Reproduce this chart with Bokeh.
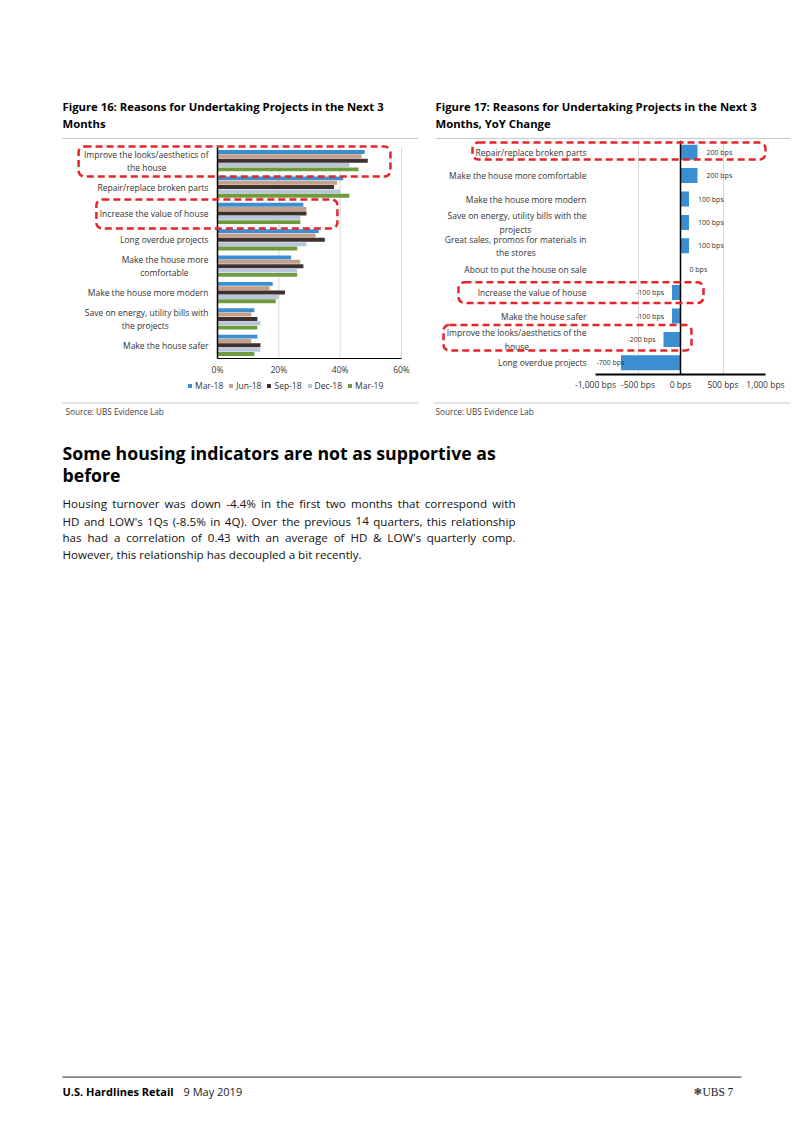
from bokeh.plotting import figure
from bokeh.models import (Range1d, ColumnDataSource, Legend, LegendItem,
                          BoxAnnotation, Span, FixedTicker, CustomJSTickFormatter,
                          PrintfTickFormatter)
from bokeh.layouts import column, row
from bokeh.transform import dodge
from bokeh.core.properties import value
from bokeh.embed import file_html
from bokeh.resources import INLINE

FONT = "Open Sans"
TXT = "#333333"

# ---------------- data: Figure 16 ----------------
reasons16 = ["Improve the looks/aesthetics of\nthe house", "Repair/replace broken parts",
             "Increase the value of house", "Long overdue projects",
             "Make the house more\ncomfortable", "Make the house more modern",
             "Save on energy, utility bills with\nthe projects", "Make the house safer"]
periods = ["Mar-18", "Jun-18", "Sep-18", "Dec-18", "Mar-19"]
mar18 = [48, 41, 28, 33, 24, 18, 12, 13]
jun18 = [47, 39, 29, 32, 27, 17, 11, 11]
sep18 = [49, 38, 29, 35, 28, 22, 13, 14]
dec18 = [43, 40, 27, 29, 26, 20, 14, 14]
mar19 = [46, 43, 27, 26, 26, 19, 13, 12]
period_colors = ["#3B8ED0", "#C4A08A", "#3D312D", "#B8C6DC", "#6F9B3C"]
ticks16 = [0, 20, 40, 60]

# ---------------- data: Figure 17 ----------------
reasons17 = ["Repair/replace broken parts", "Make the house more comfortable",
             "Make the house more modern", "Save on energy, utility bills with the\nprojects",
             "Great sales, promos for materials in\nthe stores", "About to put the house on sale",
             "Increase the value of house", "Make the house safer",
             "Improve the looks/aesthetics of the\nhouse", "Long overdue projects"]
yoy_bps = [200, 200, 100, 100, 100, 0, -100, -100, -200, -700]
ticks17 = [-1000, -500, 0, 500, 1000]

RED = "#E4252B"
NBSP = "\u00a0"
ZWSP = "\u200b"

# ---------------- layout constants (page pixels) ----------------
ROW_TOP, ROW_H, BORDER_B = 140, 258, 24
ROW_BOT = ROW_TOP + ROW_H                      # 398
FRAME_BOTTOM = ROW_BOT - BORDER_B              # 374 (both chart frames)
C16_TOP, C16_BOT = 147, 358                    # category band of fig 16
X16_ZERO, X16_MAX = 217, 401                   # 0% and 60% of fig 16
F16_LEFT, F16_RIGHT = 210, 410                 # frame of fig 16
W16, W17 = 426, 376
F17_LEFT, F17_RIGHT = W16 + 169, 802 - 37      # frame of fig 17 (595..765)


def centered_label(lab, n):
    """Second line of a two-line label padded so it sits roughly centred under the first."""
    if "\n" in lab and n:
        a, b = lab.split("\n")
        return a + "\n" + b + NBSP * n + ZWSP
    return lab


def base_fig(**kw):
    p = figure(output_backend="svg", toolbar_location=None, title=None, **kw)
    p.outline_line_color = None
    p.background_fill_color = "white"
    p.border_fill_color = "white"
    p.grid.visible = False
    return p


def style_axis(ax, size="8.5px"):
    ax.major_tick_line_color = None
    ax.minor_tick_line_color = None
    ax.major_tick_out = 0
    ax.major_tick_in = 0
    ax.minor_tick_out = 0
    ax.minor_tick_in = 0
    ax.major_label_text_font = FONT
    ax.major_label_text_font_size = size
    ax.major_label_text_color = TXT


# ---------------- Figure 16 chart ----------------
n16 = len(reasons16)
pitch16 = (C16_BOT - C16_TOP) / n16
y16 = [n16 - 1 - i + 0.5 for i in range(n16)]
px16 = (X16_MAX - X16_ZERO) / 60.0
src16 = ColumnDataSource(dict(y=y16, mar18=mar18, jun18=jun18, sep18=sep18,
                              dec18=dec18, mar19=mar19))
p16 = base_fig(width=W16, height=ROW_H,
               x_range=Range1d(-(X16_ZERO - F16_LEFT) / px16, 60 + (F16_RIGHT - X16_MAX) / px16),
               y_range=Range1d(-(FRAME_BOTTOM - C16_BOT) / pitch16,
                               n16 + (C16_TOP - ROW_TOP) / pitch16),
               min_border_left=F16_LEFT, min_border_right=W16 - F16_RIGHT,
               min_border_top=0, min_border_bottom=BORDER_B)
p16.segment(x0=ticks16[1:], x1=ticks16[1:], y0=0, y1=n16, line_color="#D9D9D9", line_width=1)
cols = ["mar18", "jun18", "sep18", "dec18", "mar19"]
offsets = [0.33, 0.165, 0.0, -0.165, -0.33]
for c, off, col in zip(cols, offsets, period_colors):
    p16.hbar(y=dodge("y", off), left=0, right=c, height=0.15,
             fill_color=col, line_color=None, source=src16)
# the value axis line at 0 %
p16.segment(x0=[0], x1=[0], y0=[0], y1=[n16], line_color="black", line_width=1.5)

p16.xaxis.ticker = FixedTicker(ticks=ticks16)
p16.xaxis.formatter = PrintfTickFormatter(format="%d%%")
p16.xaxis.fixed_location = 0
p16.xaxis.bounds = (0, 60)
style_axis(p16.xaxis)
p16.xaxis.axis_line_color = "black"
p16.xaxis.axis_line_width = 1
p16.xaxis.major_label_standoff = 5

p16.yaxis.ticker = FixedTicker(ticks=y16)
p16.yaxis.major_label_overrides = {y: centered_label(lab, n) for y, lab, n in
                                   zip(y16, reasons16, [19, 0, 0, 0, 9, 0, 18, 0])}
style_axis(p16.yaxis)
p16.yaxis.axis_line_color = None
p16.yaxis.major_label_standoff = 2

# ---------------- Figure 17 chart ----------------
n17 = len(reasons17)
y17 = [n17 - 1 - i + 0.5 for i in range(n17)]
x_lo, x_hi = -1000, 1000
lab_x, aligns, offs = [], [], []
for v in yoy_bps:
    if v >= 0:
        lab_x.append(v); aligns.append("left"); offs.append(9)
    elif v > -500:
        lab_x.append(v); aligns.append("right"); offs.append(-8)
    else:
        lab_x.append(x_lo); aligns.append("left"); offs.append(1)
src17 = ColumnDataSource(dict(y=y17, bps=yoy_bps, lx=lab_x, al=aligns, xo=offs,
                              txt=[f"{v:,} bps" for v in yoy_bps]))
p17 = base_fig(y_range=Range1d(0, n17), x_range=Range1d(x_lo, x_hi),
               width=W17, height=ROW_H, min_border_left=F17_LEFT - W16,
               min_border_right=802 - F17_RIGHT, min_border_top=0, min_border_bottom=BORDER_B)
p17.xgrid.visible = True
p17.xgrid.grid_line_color = "#D9D9D9"
p17.hbar(y="y", left=0, right="bps", height=0.64, fill_color="#3B8ED0", line_color=None,
         source=src17)
p17.text(x="lx", y="y", text="txt", x_offset="xo", text_align="al", text_baseline="middle",
         text_font=value(FONT), text_font_size=value("7px"), text_color=TXT, source=src17)
p17.add_layout(Span(location=0, dimension="height", line_color="black", line_width=1.5))
p17.xaxis.ticker = FixedTicker(ticks=ticks17)
p17.xaxis.formatter = CustomJSTickFormatter(code="return tick.toLocaleString('en-US') + ' bps'")
style_axis(p17.xaxis)
style_axis(p17.yaxis)
p17.xaxis.axis_line_color = "black"
p17.xaxis.axis_line_width = 2
p17.xaxis.major_label_standoff = 4
p17.yaxis.ticker = FixedTicker(ticks=y17)
p17.yaxis.axis_line_color = None
p17.yaxis.major_label_standoff = 9
p17.yaxis.major_label_overrides = {y: centered_label(lab, n) for y, lab, n in
                                   zip(y17, reasons17, [0, 0, 0, 25, 23, 0, 0, 0, 26, 0])}

# ---------------- transparent overlay on the chart row: highlight boxes + legend ----------------
pitch17 = (FRAME_BOTTOM - ROW_TOP) / n17
px17 = (F17_RIGHT - F17_LEFT) / (x_hi - x_lo)
zero17 = F17_LEFT - x_lo * px17
ov = figure(output_backend="svg", toolbar_location=None, title=None, width=802, height=ROW_H,
            x_range=Range1d(0, 802), y_range=Range1d(ROW_BOT, ROW_TOP),
            x_axis_location=None, y_axis_location=None, min_border=0)
ov.grid.visible = False
ov.outline_line_color = None
ov.background_fill_alpha = 0
ov.border_fill_alpha = 0
ov.margin = (-ROW_H, 0, 0, 0)
# scales of the two charts expressed over the overlay's area
ov.extra_x_ranges = {"x16": Range1d(-X16_ZERO / px16, (802 - X16_ZERO) / px16),
                     "x17": Range1d(-zero17 / px17, (802 - zero17) / px17)}
ov.extra_y_ranges = {"y16": Range1d(-(ROW_BOT - C16_BOT) / pitch16, (C16_BOT - ROW_TOP) / pitch16),
                     "y17": Range1d(-(ROW_BOT - FRAME_BOTTOM) / pitch17,
                                    (FRAME_BOTTOM - ROW_TOP) / pitch17)}
boxes = [("x16", "y16", -45.3, 56.4, 6.90, 8.04), ("x16", "y16", -39.5, 39.1, 4.93, 6.03),
         ("x17", "y17", -2447, 1000, 9.19, 9.91), ("x17", "y17", -2612, 271, 3.06, 3.94),
         ("x17", "y17", -2788, 129, 1.03, 2.12)]
for xr, yr, l, r_, b, t in boxes:
    ov.add_layout(BoxAnnotation(left=l, right=r_, bottom=b, top=t, x_range_name=xr,
                                y_range_name=yr, fill_alpha=0, fill_color=None,
                                line_color=RED, line_alpha=1, line_width=2.5,
                                line_dash="7 4", border_radius=6, level="annotation"))
# legend swatches for the five survey waves of figure 16 (zero-size proxy glyphs)
items = []
for col, lab in zip(period_colors, periods):
    proxy = ColumnDataSource(dict(y=[0], left=[0], right=[0]))
    r = ov.hbar(y="y", left="left", right="right", height=0, fill_color=col, line_color=None,
                source=proxy)
    items.append(LegendItem(label=lab, renderers=[r]))
leg = Legend(items=items, orientation="horizontal", location=(187, ROW_BOT - 391), glyph_width=5,
             glyph_height=5, label_height=11, label_width=10, label_standoff=3, spacing=5,
             padding=0, margin=0, border_line_color=None, background_fill_alpha=0,
             label_text_font=FONT, label_text_font_size="8.5px", label_text_color=TXT)
ov.add_layout(leg)


# ---------------- page text ----------------
def page_fig(h, y0):
    return base_fig(width=802, height=h, x_range=Range1d(0, 802), y_range=Range1d(y0 + h, y0),
                    x_axis_location=None, y_axis_location=None, min_border=0)


# approximate Open Sans advance widths (units per 2048 em), used to justify the paragraph
W = {" ": 532, "'": 362, "(": 608, ")": 608, ",": 502, "-": 659, ".": 545, "%": 1696, "&": 1487,
     "H": 1511, "L": 1083, "O": 1593, "Q": 1593, "W": 1901, "D": 1472, "S": 1114,
     "a": 1139, "b": 1255, "c": 975, "d": 1255, "e": 1149, "f": 694, "g": 1122, "h": 1257,
     "i": 518, "j": 518, "k": 1075, "l": 518, "m": 1905, "n": 1257, "o": 1237, "p": 1255,
     "q": 1255, "r": 836, "s": 977, "t": 723, "u": 1257, "v": 1026, "w": 1593, "x": 1073,
     "y": 1028, "z": 977}


def est_width(s, size):
    return sum(W.get(ch, 1171) for ch in s) / 2048.0 * size


head = page_fig(ROW_TOP, 0)
head.text(x=[62, 62, 435, 435], y=[106, 123, 106, 123],
          text=["Figure 16: Reasons for Undertaking Projects in the Next 3", "Months",
                "Figure 17: Reasons for Undertaking Projects in the Next 3", "Months, YoY Change"],
          text_font=value(FONT), text_font_style="bold", text_font_size=value("11.3px"),
          text_color="black", text_baseline="middle")
head.segment(x0=[62, 435], x1=[418, 790], y0=[138, 138], y1=[138, 138],
             line_color="#C8C8C8", line_width=1)

body = page_fig(1133 - ROW_BOT, ROW_BOT)
body.segment(x0=[62, 433], x1=[418, 790], y0=[402.5, 402.5], y1=[402.5, 402.5],
             line_color="#C8C8C8", line_width=1)
body.text(x=[65, 435], y=[410.5, 410.5], text=["Source:  UBS Evidence Lab"] * 2,
          text_font=value(FONT), text_font_size=value("8.2px"), text_color="#444444",
          text_baseline="middle")
body.text(x=[62, 62], y=[452.5, 474.5],
          text=["Some housing indicators are not as supportive as", "before"],
          text_font=value(FONT), text_font_style="bold", text_font_size=value("17.7px"),
          text_color="black", text_baseline="alphabetic")

para = ["Housing turnover was down -4.4% in the first two months that correspond with",
        "HD and LOW's 1Qs (-8.5% in 4Q). Over the previous 14 quarters, this relationship",
        "has had a correlation of 0.43 with an average of HD & LOW's quarterly comp.",
        "However, this relationship has decoupled a bit recently."]
para_y = [503.3, 520.7, 537.3, 554.3]
PSIZE = 11.6
left_x, right_x = 62, 515
wx, wy, wt, wa = [], [], [], []
for i, (line, yy) in enumerate(zip(para, para_y)):
    if i == len(para) - 1:
        wx.append(left_x); wy.append(yy); wt.append(line); wa.append("left")
        continue
    words = line.split(" ")
    widths = [est_width(w, PSIZE) for w in words]
    gap = (right_x - left_x - sum(widths)) / (len(words) - 1)
    x = left_x
    for j, (w, ww) in enumerate(zip(words, widths)):
        if j == len(words) - 1:
            wx.append(right_x); wa.append("right")
        else:
            wx.append(x); wa.append("left")
        wy.append(yy); wt.append(w)
        x += ww + gap
body.text(x=wx, y=wy, text=wt, text_align=wa, text_font=value(FONT),
          text_font_size=value(f"{PSIZE}px"), text_color="#111111", text_baseline="middle")

# footer
body.segment(x0=[62], x1=[741], y0=[1076.7], y1=[1076.7], line_color="#555555", line_width=1.2)
body.text(x=[62], y=[1091], text=["U.S. Hardlines Retail"], text_font=value(FONT),
          text_font_style="bold", text_font_size=value("11px"), text_color="black",
          text_baseline="middle")
body.text(x=[183], y=[1091], text=["9 May 2019"], text_font=value(FONT),
          text_font_size=value("11px"), text_color="#222222", text_baseline="middle")
body.text(x=[693], y=[1091], text=["\u2743"], text_font=value("DejaVu Sans"),
          text_font_size=value("10px"), text_color="#333333", text_baseline="middle")
body.text(x=[702, 727], y=[1091, 1091], text=["UBS", "7"], text_font=value("Liberation Serif"),
          text_font_size=value("11.5px"), text_color="#222222", text_baseline="middle")

layout = column(head, row(p16, p17, spacing=0), ov, body, spacing=0)
open("out.html", "w").write(file_html(layout, INLINE))
